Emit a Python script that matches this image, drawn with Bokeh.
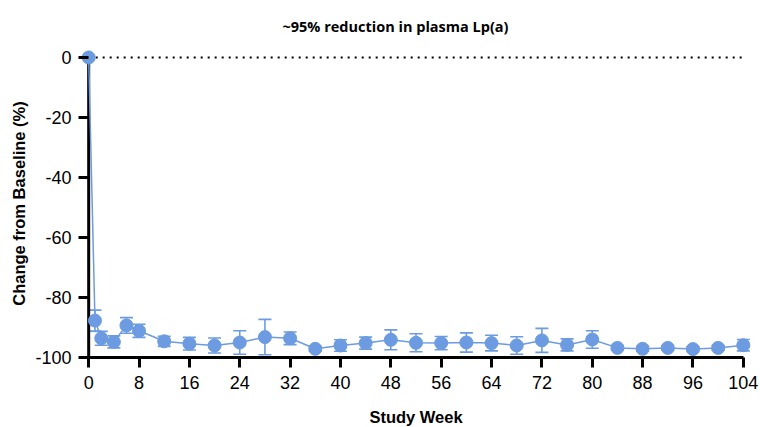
from bokeh.plotting import figure
from bokeh.models import ColumnDataSource, Whisker, TeeHead, Range1d, FixedTicker
from bokeh.embed import file_html
from bokeh.resources import INLINE

# ---- data ----
weeks = [0, 1, 2, 4, 6, 8, 12, 16, 20, 24, 28, 32, 36, 40, 44, 48, 52, 56,
         60, 64, 68, 72, 76, 80, 84, 88, 92, 96, 100, 104]
mean_change = [0, -87.7, -93.6, -94.8, -89.3, -91.1, -94.6, -95.4, -96.0, -95.0,
               -93.2, -93.6, -97.1, -96.0, -95.2, -94.1, -95.1, -95.2, -95.0, -95.2,
               -96.0, -94.3, -95.8, -94.0, -96.8, -97.1, -96.8, -97.2, -96.8, -95.9]
sem = [0, 3.5, 2.3, 2.0, 2.6, 2.2, 1.7, 2.1, 2.5, 3.9,
       5.9, 2.1, 0.8, 1.9, 2.0, 3.3, 3.0, 2.2, 3.2, 2.6,
       2.9, 4.0, 2.0, 2.9, 0.8, 0.8, 0.8, 0.8, 0.8, 1.9]
x_ticks = [0, 8, 16, 24, 32, 40, 48, 56, 64, 72, 80, 88, 96, 104]
y_ticks = [0, -20, -40, -60, -80, -100]
baseline = [0, 0]
title_text = "~95% reduction in plasma Lp(a)"
x_label = "Study Week"
y_label = "Change from Baseline (%)"

BLUE = "#6C9BE1"

src = ColumnDataSource(dict(
    x=weeks, y=mean_change,
    upper=[m + s for m, s in zip(mean_change, sem)],
    lower=[m - s for m, s in zip(mean_change, sem)],
))

X0, X1 = -1.3, 105.3          # frame 671 px wide -> week 0 sits 8 px inside
FW = 671
pad_px = round(-X0 / (X1 - X0) * FW)

p = figure(frame_width=FW, frame_height=308, output_backend="svg",
           toolbar_location=None,
           x_range=Range1d(X0, X1), y_range=Range1d(-100, 2.667),
           min_border_left=80, min_border_right=9, min_border_top=49,
           min_border_bottom=70, title=title_text)

p.title.text_font = "Open Sans"
p.title.text_font_size = "14.5px"
p.title.text_font_style = "bold"
p.title.text_color = "black"
p.title.align = "left"
p.title.offset = 202
p.title.standoff = 28

p.xgrid.visible = False
p.ygrid.visible = False
p.outline_line_color = None
p.background_fill_color = "white"
p.border_fill_color = "white"

# dotted baseline
p.line(x=[weeks[0], weeks[-1]], y=baseline, line_color="black",
       line_width=2, line_dash="2 5")

# y axis line drawn at week 0 (inside the frame so the week-0 marker is not clipped)
p.segment(x0=[x_ticks[0]], y0=[y_ticks[-1]], x1=[x_ticks[0]], y1=[y_ticks[0]],
          line_color="black", line_width=3)

# connecting line
p.line("x", "y", source=src, line_color=BLUE, line_width=1.5)

# error bars
w = Whisker(base="x", upper="upper", lower="lower", source=src,
            line_color=BLUE, line_width=1.6,
            upper_head=TeeHead(size=13, line_color=BLUE, line_width=1.6),
            lower_head=TeeHead(size=13, line_color=BLUE, line_width=1.6))
p.add_layout(w)

p.scatter("x", "y", source=src, size=13, fill_color=BLUE, line_color=BLUE)

for ax in (p.xaxis[0], p.yaxis[0]):
    ax.axis_line_width = 3
    ax.axis_line_color = "black"
    ax.major_tick_line_width = 3
    ax.major_tick_line_color = "black"
    ax.minor_tick_line_color = None
    ax.major_label_text_font = "Liberation Sans"
    ax.major_label_text_font_size = "18px"
    ax.major_label_text_color = "black"
    ax.axis_label_text_font = "Liberation Sans"
    ax.axis_label_text_font_size = "16.5px"
    ax.axis_label_text_font_style = "bold"
    ax.axis_label_text_color = "black"

p.xaxis.major_tick_in = 0
p.xaxis.major_tick_out = 10
p.yaxis.axis_line_color = None
p.yaxis.major_tick_in = pad_px
p.yaxis.major_tick_out = 10 - pad_px

p.xaxis.ticker = FixedTicker(ticks=x_ticks)
p.yaxis.ticker = FixedTicker(ticks=y_ticks)
p.yaxis.major_label_overrides = {t: str(t) for t in y_ticks}
p.xaxis.bounds = (0, 104)
p.yaxis.bounds = (-100, 0)
p.xaxis.axis_label = x_label
p.yaxis.axis_label = y_label
p.xaxis.major_label_standoff = 8
p.yaxis.major_label_standoff = 7
p.xaxis.axis_label_standoff = 16
p.yaxis.axis_label_standoff = 4

open("out.html", "w").write(file_html(p, INLINE))
